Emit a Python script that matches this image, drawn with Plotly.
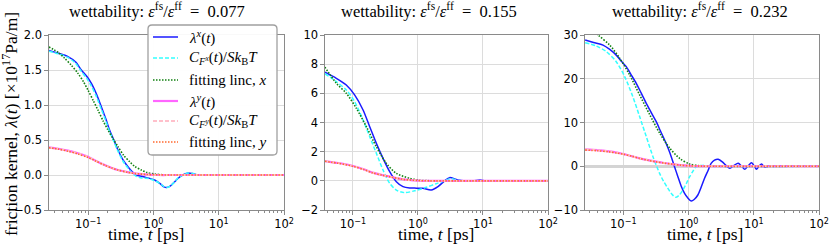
import plotly.graph_objects as go

# ---------------- data ----------------
# panel 1 : eps_fs/eps_ff = 0.077
t_lx1 = [0.025, 0.035, 0.049, 0.065, 0.0785, 0.095, 0.112, 0.135, 0.159, 0.185, 0.213, 0.25, 0.286, 0.34, 0.407, 0.47, 0.546, 0.63, 0.733, 0.85, 1.04, 1.25, 1.45, 1.59, 1.8, 2.1, 2.37, 2.8, 3.4, 4.0, 4.8, 6.0, 10.0, 30.0, 100.0]
lam_x1 = [1.78, 1.74, 1.69, 1.61, 1.50, 1.41, 1.31, 1.15, 0.976, 0.81, 0.643, 0.49, 0.357, 0.22, 0.119, 0.05, 0.0, -0.015, -0.03, -0.045, -0.071, -0.12, -0.17, -0.18, -0.16, -0.10, -0.05, 0.0, 0.03, 0.02, 0.0, 0.0, 0.0, 0.0, 0.0]
cf_x1 = [1.77, 1.73, 1.68, 1.59, 1.48, 1.38, 1.27, 1.11, 0.94, 0.78, 0.62, 0.47, 0.34, 0.20, 0.10, 0.03, -0.02, -0.04, -0.045, -0.05, -0.08, -0.12, -0.165, -0.18, -0.16, -0.10, -0.045, 0.0, 0.03, 0.02, 0.0, 0.0, 0.0, 0.0, 0.0]
t_fx1 = [0.025, 0.035, 0.0436, 0.055, 0.0698, 0.085, 0.0993, 0.12, 0.141, 0.17, 0.201, 0.24, 0.286, 0.35, 0.432, 0.52, 0.652, 0.8, 1.04, 1.4, 2.0, 5.0, 100.0]
fit_x1 = [1.83, 1.75, 1.667, 1.57, 1.452, 1.33, 1.214, 1.06, 0.929, 0.77, 0.643, 0.52, 0.405, 0.28, 0.19, 0.12, 0.071, 0.035, 0.014, 0.004, 0.0, 0.0, 0.0]
t_y1 = [0.025, 0.035, 0.049, 0.07, 0.0993, 0.13, 0.179, 0.23, 0.286, 0.4, 0.515, 0.8, 1.2, 2.0, 100.0]
lam_y1 = [0.395, 0.375, 0.348, 0.31, 0.262, 0.205, 0.143, 0.10, 0.071, 0.04, 0.024, 0.006, 0.0, 0.0, 0.0]
cf_y1 = [0.392, 0.373, 0.346, 0.308, 0.26, 0.204, 0.142, 0.10, 0.07, 0.04, 0.023, 0.006, 0.0, 0.0, 0.0]
fit_y1 = [0.39, 0.37, 0.34, 0.30, 0.25, 0.20, 0.14, 0.10, 0.07, 0.04, 0.022, 0.007, 0.002, 0.0, 0.0]

# panel 2 : eps_fs/eps_ff = 0.155
t_lx2 = [0.037, 0.0555, 0.079, 0.106, 0.143, 0.181, 0.229, 0.29, 0.367, 0.465, 0.589, 0.746, 0.95, 1.19, 1.6, 2.03, 2.57, 3.07, 3.89, 5.0, 7.0, 9.0, 11.0, 20.0, 100.0]
lam_x2 = [7.45, 7.03, 6.57, 5.89, 4.86, 3.71, 2.57, 1.54, 0.63, -0.06, -0.40, -0.49, -0.50, -0.51, -0.63, -0.40, 0.0, 0.22, 0.10, 0.0, 0.0, 0.05, 0.0, 0.0, 0.0]
t_cx2 = [0.037, 0.0555, 0.079, 0.106, 0.143, 0.181, 0.229, 0.29, 0.367, 0.465, 0.62, 0.89, 1.35, 1.9, 2.57, 3.1, 4.0, 5.0, 100.0]
cf_x2 = [7.35, 6.8, 6.23, 5.43, 4.17, 3.03, 1.89, 0.74, -0.17, -0.63, -0.81, -0.68, -0.44, -0.20, 0.0, 0.15, 0.05, 0.0, 0.0]
t_fx2 = [0.037, 0.0555, 0.079, 0.113, 0.161, 0.229, 0.326, 0.465, 0.746, 1.05, 1.5, 3.0, 100.0]
fit_x2 = [7.8, 6.69, 6.0, 4.97, 3.71, 2.34, 1.2, 0.51, 0.17, 0.04, 0.01, 0.0, 0.0]
t_y2 = [0.037, 0.06, 0.1, 0.15, 0.2, 0.28, 0.367, 0.59, 1.0, 1.5, 100.0]
lam_y2 = [1.36, 1.22, 1.02, 0.78, 0.56, 0.40, 0.29, 0.10, 0.02, 0.0, 0.0]
cf_y2 = [1.35, 1.21, 1.01, 0.77, 0.56, 0.40, 0.29, 0.10, 0.02, 0.0, 0.0]
fit_y2 = [1.34, 1.20, 1.00, 0.76, 0.55, 0.39, 0.28, 0.10, 0.02, 0.0, 0.0]

# panel 3 : eps_fs/eps_ff = 0.232
t_lx3 = [0.026, 0.035, 0.0489, 0.062, 0.078, 0.092, 0.111, 0.132, 0.158, 0.19, 0.225, 0.27, 0.32, 0.37, 0.43, 0.49, 0.543, 0.61, 0.687, 0.77, 0.87, 0.97, 1.1, 1.22, 1.39, 1.55, 1.76, 2.0, 2.22, 2.5, 2.85, 3.3, 3.8, 4.3, 5.0, 5.77, 6.5, 7.3, 8.2, 9.25, 10.2, 11.0, 12.0, 13.2, 14.2, 15.0, 17.0, 20.0, 25.0, 30.0, 100.0]
lam_x3 = [28.86, 28.3, 27.7, 26.7, 25.4, 24.1, 22.76, 20.9, 18.95, 16.6, 14.38, 12.2, 10.19, 8.1, 6.0, 4.0, 2.19, -0.1, -2.38, -4.5, -6.19, -7.2, -7.95, -7.6, -6.57, -4.9, -2.76, -0.9, 0.67, 1.4, 1.6, 1.0, 0.1, -0.47, 0.2, 0.67, 0.0, -0.7, 0.1, 0.8, 0.0, -0.7, 0.0, 0.5, 0.0, -0.2, 0.1, 0.0, 0.1, 0.0, 0.0]
t_cx3 = [0.026, 0.0385, 0.055, 0.078, 0.105, 0.14, 0.178, 0.225, 0.285, 0.36, 0.42, 0.483, 0.55, 0.634, 0.72, 0.82, 0.93, 1.04, 1.17, 1.31, 1.65, 2.2, 100.0]
cf_x3 = [28.25, 27.5, 26.2, 23.9, 20.5, 15.9, 11.35, 6.78, 2.19, -1.62, -3.6, -5.05, -6.3, -7.1, -6.6, -5.4, -3.9, -2.38, -1.1, -0.1, 0.2, 0.0, 0.0]
t_fx3 = [0.026, 0.041, 0.0618, 0.088, 0.125, 0.178, 0.254, 0.36, 0.513, 0.73, 1.04, 1.5, 2.5, 100.0]
fit_x3 = [32.5, 30.0, 27.7, 24.7, 20.9, 16.3, 11.8, 7.6, 4.16, 1.8, 0.5, 0.1, 0.0, 0.0]
t_y3 = [0.026, 0.04, 0.06, 0.08, 0.1, 0.135, 0.178, 0.24, 0.32, 0.42, 0.56, 0.75, 1.04, 1.5, 2.5, 100.0]
lam_y3 = [3.86, 3.7, 3.4, 3.1, 2.8, 2.3, 1.81, 1.4, 1.05, 0.75, 0.5, 0.25, 0.1, 0.02, 0.0, 0.0]
cf_y3 = [3.84, 3.68, 3.38, 3.08, 2.78, 2.29, 1.80, 1.39, 1.04, 0.74, 0.49, 0.25, 0.1, 0.02, 0.0, 0.0]
fit_y3 = [3.7, 3.55, 3.3, 3.0, 2.75, 2.3, 1.8, 1.35, 1.0, 0.72, 0.48, 0.25, 0.1, 0.03, 0.0, 0.0]

titles = ["0.077", "0.155", "0.232"]
x_ranges = [[-1.6, 2.0], [-1.43, 2.0], [-1.587, 2.0]]
y_ranges = [[-0.5, 2.0], [-2.0, 10.0], [-10.0, 30.0]]
y_dticks = [0.5, 2.0, 10.0]
y_formats = [".1f", "d", "d"]
x_tickvals = [0.01, 0.1, 1, 10, 100]
x_ticktext = ["10<sup>−2</sup>", "10<sup>−1</sup>", "10<sup>0</sup>", "10<sup>1</sup>", "10<sup>2</sup>"]

legend_labels = [
    "<i>λ</i><sup><i>x</i></sup>(<i>t</i>)",
    "<i>C</i><sub><i>F</i><sup><i>x</i></sup></sub>(<i>t</i>)/<i>Sk</i><sub>B</sub><i>T</i>",
    "fitting linc, <i>x</i>",
    "<i>λ</i><sup><i>y</i></sup>(<i>t</i>)",
    "<i>C</i><sub><i>F</i><sup><i>y</i></sup></sub>(<i>t</i>)/<i>Sk</i><sub>B</sub><i>T</i>",
    "fitting linc, <i>y</i>",
]

# ---------------- styles ----------------
W, H = 830, 247
MT, MB = 35, 37
PH = H - MT - MB
SERIF = "Liberation Serif"
SANS = "DejaVu Sans"
C_BLUE = "#1a1aff"
C_CYAN = "#33ffff"
C_GREEN = "#108010"
C_MAG = "#ff66ff"
C_PINK = "#ffc0cb"
C_ORANGE = "#ff6a30"
styles = [
    dict(color=C_BLUE, width=1.5, dash="solid"),
    dict(color=C_CYAN, width=1.5, dash="4px,2px"),
    dict(color=C_GREEN, width=1.6, dash="1.5px,1.5px"),
    dict(color=C_MAG, width=2.2, dash="solid"),
    dict(color=C_PINK, width=1.8, dash="4px,2px"),
    dict(color=C_ORANGE, width=1.6, dash="1.5px,1.5px"),
]
domains = [[49 / W, 284 / W], [325 / W, 548 / W], [585 / W, 819 / W]]
FRAME = "#8a8a8a"
GRID = "#dcdcdc"


def px(x):
    return x / W


def py(y):
    return (H - MB - y) / PH


panels = [
    [(t_lx1, lam_x1), (t_lx1, cf_x1), (t_fx1, fit_x1), (t_y1, lam_y1), (t_y1, cf_y1), (t_y1, fit_y1)],
    [(t_lx2, lam_x2), (t_cx2, cf_x2), (t_fx2, fit_x2), (t_y2, lam_y2), (t_y2, cf_y2), (t_y2, fit_y2)],
    [(t_lx3, lam_x3), (t_cx3, cf_x3), (t_fx3, fit_x3), (t_y3, lam_y3), (t_y3, cf_y3), (t_y3, fit_y3)],
]

fig = go.Figure()
for p, series in enumerate(panels):
    ax = "" if p == 0 else str(p + 1)
    for s, (tt, vv) in enumerate(series):
        fig.add_trace(go.Scatter(
            x=tt, y=vv, mode="lines", line=dict(shape="spline", smoothing=0.8, **styles[s]),
            xaxis="x" + ax, yaxis="y" + ax, showlegend=False, hoverinfo="skip"))
    common_ax = dict(showline=True, mirror=True, linecolor=FRAME, linewidth=1.2,
                     showgrid=True, gridcolor=GRID, gridwidth=1.3, automargin=False,
                     ticks="outside", ticklen=3.5, tickcolor=FRAME,
                     tickfont=dict(family=SANS, size=11.5, color="black"))
    fig.update_layout(**{
        "xaxis" + ax: dict(type="log", range=x_ranges[p], domain=domains[p], anchor="y" + ax,
                           tickmode="array", tickvals=x_tickvals, ticktext=x_ticktext, zeroline=False,
                           minor=dict(ticks="outside", ticklen=2, tickcolor=FRAME, dtick="D1", showgrid=False),
                           **common_ax),
        "yaxis" + ax: dict(range=y_ranges[p], dtick=y_dticks[p], tickformat=y_formats[p],
                           anchor="x" + ax, domain=[0, 1],
                           zeroline=(p == 2), zerolinecolor="#d4d4d4", zerolinewidth=2.5,
                           **common_ax),
    })

annotations = []
title_cx = [157, 429, 700]
xlabel_cx = [146, 436, 705]
for p in range(3):
    annotations.append(dict(
        text="wettability: <i>ε</i><sup>fs</sup>/<i>ε</i><sup>ff</sup>\u2002=\u2002" + titles[p],
        x=px(title_cx[p]), y=py(10), xref="paper", yref="paper", showarrow=False,
        xanchor="center", yanchor="middle", font=dict(family=SERIF, size=16.5, color="black")))
    annotations.append(dict(
        text="time, <i>t</i> [ps]",
        x=px(xlabel_cx[p]), y=py(234), xref="paper", yref="paper", showarrow=False,
        xanchor="center", yanchor="middle", font=dict(family=SERIF, size=17.5, color="black")))
annotations.append(dict(
    text="friction kernel, <i>λ</i>(<i>t</i>) [×10<sup>17</sup>Pa/m]",
    x=px(10), y=py(124), xref="paper", yref="paper", showarrow=False, textangle=-90,
    xanchor="center", yanchor="middle", font=dict(family=SERIF, size=17.5, color="black")))

# legend (drawn in panel 1)
lx0, lx1, ly0, ly1, r = 148, 277, 25, 155, 4
path = (f"M {px(lx0 + r)},{py(ly0)} L {px(lx1 - r)},{py(ly0)} Q {px(lx1)},{py(ly0)} {px(lx1)},{py(ly0 + r)} "
        f"L {px(lx1)},{py(ly1 - r)} Q {px(lx1)},{py(ly1)} {px(lx1 - r)},{py(ly1)} "
        f"L {px(lx0 + r)},{py(ly1)} Q {px(lx0)},{py(ly1)} {px(lx0)},{py(ly1 - r)} "
        f"L {px(lx0)},{py(ly0 + r)} Q {px(lx0)},{py(ly0)} {px(lx0 + r)},{py(ly0)} Z")
shapes = [dict(type="path", path=path, xref="paper", yref="paper",
               fillcolor="rgba(255,255,255,0.95)", line=dict(color="#a0a0a0", width=1.3), layer="above")]
rows = [37, 58, 80, 101, 121, 142]
for i, ry in enumerate(rows):
    shapes.append(dict(type="line", xref="paper", yref="paper", x0=px(153), x1=px(178),
                       y0=py(ry), y1=py(ry), line=styles[i], layer="above"))
    annotations.append(dict(text=legend_labels[i], x=px(187), y=py(ry), xref="paper", yref="paper",
                            showarrow=False, xanchor="left", yanchor="middle",
                            font=dict(family=SERIF, size=15, color="black")))

fig.update_layout(width=W, height=H, margin=dict(l=0, r=0, t=MT, b=MB),
                  paper_bgcolor="white", plot_bgcolor="white",
                  annotations=annotations, shapes=shapes)
fig.write_html("out.html", config={"displayModeBar": False},
               post_script="document.body.style.margin='0';document.body.style.overflow='hidden';")
